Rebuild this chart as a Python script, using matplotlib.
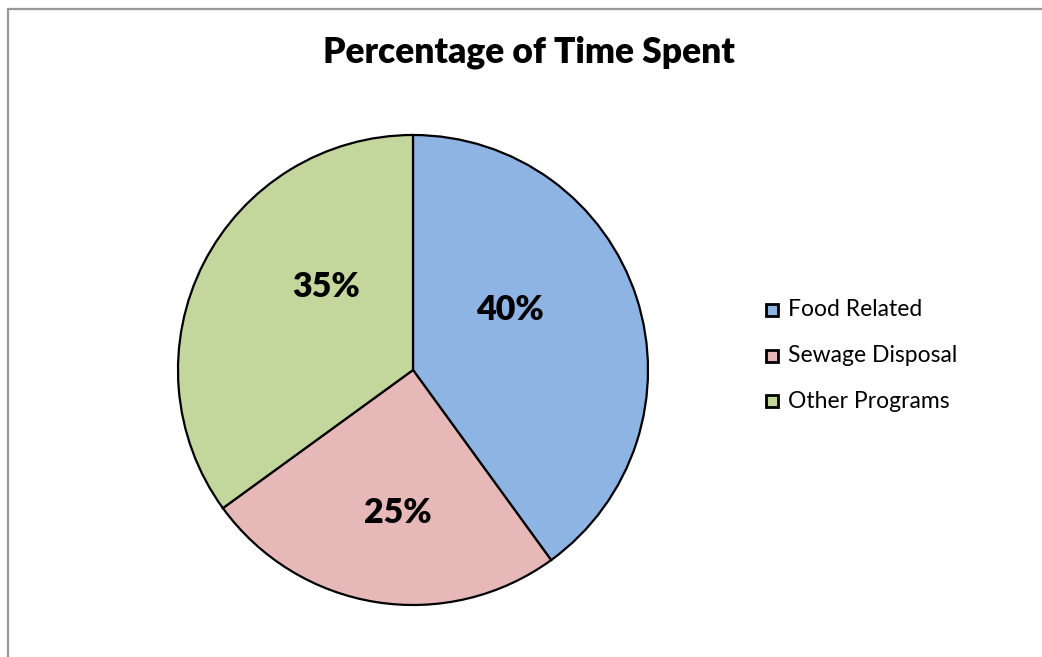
import matplotlib.pyplot as plt
from matplotlib.patches import Rectangle

categories = ["Food Related", "Sewage Disposal", "Other Programs"]
shares = [40, 25, 35]
colors = ["#8EB4E3", "#E6B9B8", "#C3D69B"]
title = "Percentage of Time Spent"

W, H = 1042, 657
fig = plt.figure(figsize=(W / 100, H / 100), dpi=100)
ax = fig.add_axes([0, 0, 1, 1])

# chart area frame (runs off the right and bottom edges)
fig.patches.append(Rectangle((8 / W, -0.1), 1.2, (H - 9) / H + 0.1, transform=fig.transFigure,
                             fill=False, edgecolor="#999999", linewidth=1.6))

cx, cy, r = 413, H - 370, 235
wedges, _ = ax.pie(shares, colors=colors, startangle=90, counterclock=False,
                   center=(cx, cy), radius=r, frame=True,
                   wedgeprops=dict(edgecolor="black", linewidth=1.6))
ax.set_xlim(0, W)
ax.set_ylim(0, H)
ax.set_aspect("equal")
ax.axis("off")

label_pos = [(510, 310), (398, 513), (326, 287)]
for v, (x, y) in zip(shares, label_pos):
    ax.text(x, H - y, f"{v}%", ha="center", va="center", fontsize=24.5,
            fontweight="heavy", family="Lato", color="black")

ax.text(529, H - 52, title, ha="center", va="center", fontsize=25.5,
        fontweight="heavy", family="Lato", color="black")

# legend
for i, (name, c) in enumerate(zip(categories, colors)):
    y = H - (310 + i * 45.5)
    ax.add_patch(Rectangle((766, y - 6), 12, 12, facecolor=c, edgecolor="black", linewidth=2))
    ax.text(788, y, name, ha="left", va="center", fontsize=16.5, family="Lato", color="black")

fig.savefig("out.png", dpi=100)
